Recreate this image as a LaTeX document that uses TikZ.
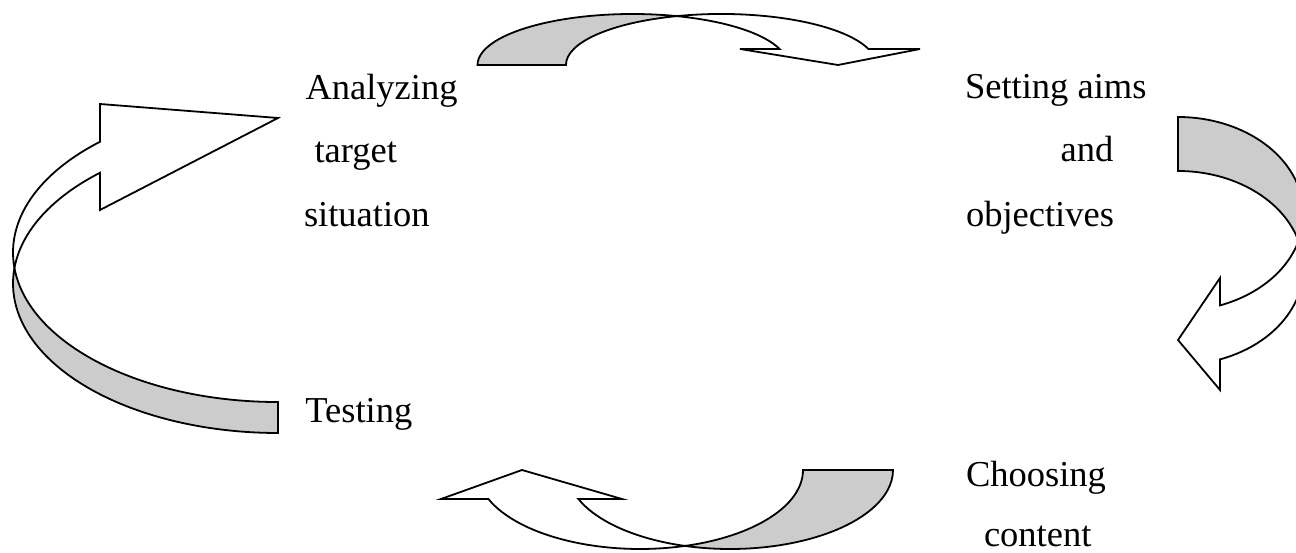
\documentclass[tikz,border=0pt]{standalone}
\usepackage{fontspec}
\setmainfont{Liberation Serif}
\definecolor{bandgray}{RGB}{204,204,204}
\tikzset{
  back/.style={draw=black, fill=bandgray, line width=1.8pt, line join=miter},
  front/.style={draw=black, fill=white, line width=1.8pt, line join=miter},
  lbl/.style={anchor=base west, inner sep=0pt, outer sep=0pt, font=\fontsize{36.5}{40}\selectfont}
}
\begin{document}
\begin{tikzpicture}[x=1pt,y=1pt]
\useasboundingbox (0,0) rectangle (1296,-553);
\clip (0,0) rectangle (1296,-553);
\fill[white] (0,0) rectangle (1296,-553);

% top arrow (curved down)
\draw[back] (477.5,-65) arc[start angle=180, end angle=73.42, x radius=155, y radius=51]
  arc[start angle=106.58, end angle=180, x radius=155, y radius=51] -- cycle;
\draw[front] (677,-16.1) arc[start angle=106.58, end angle=18.28, x radius=155, y radius=51]
  -- (920,-49) -- (838,-65) -- (740,-49) -- (779.6,-49)
  arc[start angle=18.28, end angle=73.42, x radius=155, y radius=51] -- cycle;

% right arrow (curved left)
\draw[back] (1178,-117) arc[start angle=90, end angle=-16.16, x radius=125.5, y radius=97]
  arc[start angle=16.16, end angle=90, x radius=125.5, y radius=97] -- cycle;
\draw[front] (1298.5,-241) arc[start angle=16.16, end angle=-70.45, x radius=125.5, y radius=97]
  -- (1220,-390) -- (1178,-340) -- (1220,-278) -- (1220,-305.4)
  arc[start angle=-70.45, end angle=-16.16, x radius=125.5, y radius=97] -- cycle;

% bottom arrow (curved up)
\draw[back] (893,-470) arc[start angle=0, end angle=-106.03, x radius=163, y radius=79]
  arc[start angle=-73.97, end angle=0, x radius=163, y radius=79] -- cycle;
\draw[front] (685,-545.9) arc[start angle=-73.97, end angle=-158.46, x radius=163, y radius=79]
  -- (441,-499) -- (522,-470) -- (622,-499) -- (578.4,-499)
  arc[start angle=-158.46, end angle=-106.03, x radius=163, y radius=79] -- cycle;

% left arrow (curved right)
\draw[back] (278,-433) arc[start angle=-90, end angle=-185.95, x radius=265, y radius=149.5]
  arc[start angle=-174.05, end angle=-90, x radius=265, y radius=149.5] -- cycle;
\draw[front] (14.43,-268) arc[start angle=-174.05, end angle=-227.8, x radius=265, y radius=149.5]
  -- (100,-104) -- (278,-118) -- (100,-210) -- (100,-172.75)
  arc[start angle=-227.8, end angle=-185.95, x radius=265, y radius=149.5] -- cycle;

% labels
\node[lbl] (an1) at (305.5,-100) {Analyzing};
\node[lbl] (an2) at (314.5,-163) {target};
\node[lbl] (an3) at (304,-227) {situation};
\node[lbl] (se1) at (965,-99) {Setting aims};
\node[lbl] (se2) at (1060.7,-162) {and};
\node[lbl] (se3) at (966,-227) {objectives};
\node[lbl] (te) at (305.4,-422) {Testing};
\node[lbl] (ch1) at (966,-486) {Choosing};
\node[lbl] (ch2) at (984,-546.5) {content};
\end{tikzpicture}
\end{document}
